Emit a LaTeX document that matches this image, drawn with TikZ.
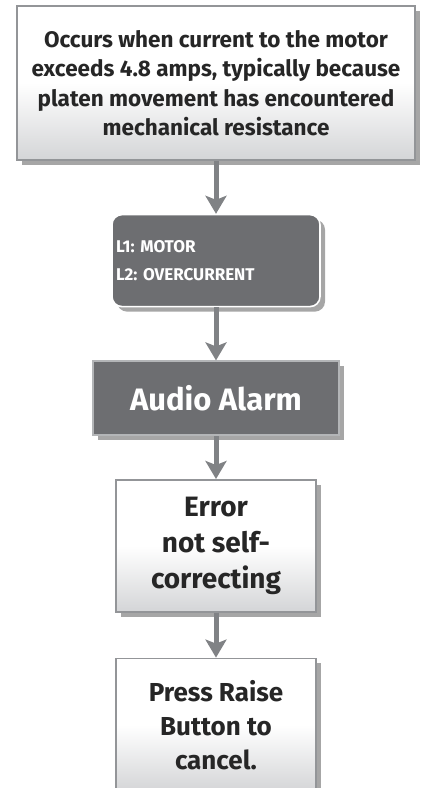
\documentclass[tikz,border=0pt]{standalone}
\usepackage{fontspec}
\setmainfont{Fira Sans}
\usetikzlibrary{arrows.meta,positioning,shadows}
\frenchspacing
\definecolor{BoxGray}{HTML}{6D6E71}
\definecolor{EdgeGray}{HTML}{939598}
\definecolor{ShadeGray}{HTML}{D4D5D7}
\definecolor{ArrowGray}{HTML}{808285}
\tikzset{
  infobox/.style={draw=EdgeGray, line width=1.6pt, top color=white, bottom color=ShadeGray,
                  middle color=white, align=center, inner sep=0pt, text=black!85,
                  drop shadow={shadow xshift=5pt, shadow yshift=-5pt, fill=black, opacity=.35}},
  codebox/.style={draw=white, line width=1.6pt, fill=BoxGray, rounded corners=10pt,
                  align=left, text=white, inner xsep=4pt, inner ysep=0pt,
                  text width=200pt, minimum height=92pt,
                  font=\fontsize{17}{28}\selectfont\bfseries,
                  drop shadow={shadow xshift=5pt, shadow yshift=-5pt, fill=black, opacity=.35}},
  alarmbox/.style={draw=EdgeGray!70, line width=1.6pt, fill=BoxGray, text=white,
                  inner sep=0pt, minimum width=246pt, minimum height=74pt,
                  font=\fontsize{31}{34}\selectfont\bfseries,
                  drop shadow={shadow xshift=5pt, shadow yshift=-5pt, fill=black, opacity=.35}},
  flowarr/.style={-{Stealth[length=18pt, width=21pt, inset=4pt]}, line width=5pt, ArrowGray}
}
\begin{document}
\begin{tikzpicture}
\useasboundingbox (0,0) rectangle (421pt,-788pt);
\node[infobox, minimum width=398pt, minimum height=154pt,
      font=\fontsize{22.5}{29.5}\selectfont\bfseries] (cause) at (216pt,-83pt)
  {Occurs when current to the motor\\exceeds 4.8 amps, typically because\\
   platen movement has encountered\\mechanical resistance};
\node[codebox, below=53pt of cause] (code) {L1: MOTOR\\L2: OVERCURRENT};
\node[alarmbox, below=53pt of code] (alarm) {Audio Alarm};
\node[infobox, below=43pt of alarm, minimum width=200pt, minimum height=132pt,
      font=\fontsize{28}{36}\selectfont\bfseries] (error) {Error\\not self-\\correcting};
\node[infobox, below=45pt of error, minimum width=200pt, minimum height=133pt,
      font=\fontsize{26}{34}\selectfont\bfseries] (cancel) {Press Raise\\Button to\\cancel.};
\foreach \a/\b in {cause/code, code/alarm, alarm/error, error/cancel}
  \draw[flowarr] (\a) -- (\b);
\end{tikzpicture}
\end{document}
